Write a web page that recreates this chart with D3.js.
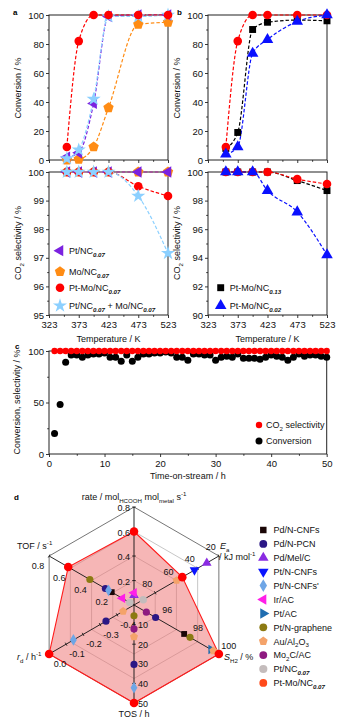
<!DOCTYPE html>
<html><head><meta charset="utf-8">
<script src="https://cdn.jsdelivr.net/npm/d3@7"></script>
<style>body{margin:0;background:#fff}svg{display:block;font-family:"Liberation Sans",Arial,Helvetica,sans-serif}</style>
</head><body><svg id="c" width="349" height="723"></svg>
<script>
// ---------- data: panels a & b ----------
const temps = [353, 373, 398, 423, 473, 523];
const tempTicks = [323, 373, 423, 473, 523];
const tempMinor = [348, 398, 448, 498];
const convPt = [2, 5, 39, 99, 100, 100];
const convMo = [0, 0.5, 9, 36, 93.5, 95];
const convPtMo = [9, 82, 100, 100, 100, 100];
const convMix = [1, 7, 42, 99, 99, 100];
const selPt = [100, 100, 100, 100, 100, 100];
const selMo = [100, 100, 100, 100, 100, 100];
const selPtMo = [100, 100, 100, 100, 99.5, 99.16];
const selMix = [100, 100, 100, 100, 99.16, 97.16];
const convPtMo13 = [8, 19, 90, 95, 96.5, 96];
const convPtMo02 = [4, 9, 73.5, 83, 95.5, 100];
const selPtMo13 = [100, 100, 100, 100, 99.4, 98.7];
const selPtMo02 = [100, 100, 100, 98.7, 97.2, 94.2];
const convTicks = [0, 20, 40, 60, 80, 100];
const selTicksA = [95, 96, 97, 98, 99, 100];
const selTicksB = [90, 92, 94, 96, 98, 100];

// ---------- data: panel c ----------
const tos = d3.range(1, 51);
const tosConv = [20, 48, 89, 96, 96, 94, 96, 97, 97, 98, 94, 94, 90, 96, 90, 94, 97, 97, 98, 98,
  99, 98, 94, 94, 91, 97, 97, 96, 96, 91, 94, 95, 94, 97, 93, 93, 93, 92, 94, 96,
  95, 94, 91, 94, 97, 95, 96, 96, 95, 94];
const tosSel = tos.map(() => 100);
const tosTicks = [0, 10, 20, 30, 40, 50];
const tosYTicks = [0, 50, 100];

// ---------- data: panel d ----------
const catalysts = ["Pd/N-CNFs", "Pd/N-PCN", "Pd/Mel/C", "Pt/N-CNFs", "Pt/N-CNFs'", "Ir/AC", "Pt/AC",
  "Pt/N-graphene", "Au/Al2O3", "Mo2C/AC", "Pt/NC0.07", "Pt-Mo/NC0.07"];
const rateVals = [null, null, 0.08, null, null, 0.1, null, null, null, null, null, 0.6];
const eaVals   = [null, null, 31.4, 43, null, null, null, null, 59.8, null, 91.3, 54.5];
const sh2Vals  = [97.75, 95.9, null, null, null, null, 99.5, 98.13, 99.64, 95.3, null, 100];
const tosVals  = [null, 30.3, null, null, 42.2, null, null, 5.5, 16.2, 12.2, null, 50];
const rdVals   = [null, -0.335, null, null, -0.143, null, null, null, -0.436, null, null, 0];
const tofVals  = [0.21, 0.27, null, null, 0.24, 0.11, null, 0.416, null, null, 0.04, 0.62];
const rateTicks = [0.2, 0.4, 0.6, 0.8];
const eaTicks = [80, 60, 40, 20];
const sh2Ticks = [96, 98, 100];
const tosAxTicks = [10, 20, 30, 40, 50];
const rdTicks = [-0.4, -0.3, -0.2, -0.1, 0];
const tofTicks = [0.2, 0.4, 0.6, 0.8];

// ---------- helpers ----------
const svg = d3.select("#c");
const FONT = '"Liberation Sans",Arial,Helvetica,sans-serif';
const fmt1 = v => v.toFixed(1);
const fmt0 = v => String(Math.round(v));

function rich(sel, x, y, parts, fs, anchor, rot) {
  const t = sel.append("text").attr("font-size", fs).attr("fill", "#111")
    .attr("text-anchor", anchor || "start");
  if (rot) t.attr("transform", `translate(${x},${y}) rotate(${rot})`).attr("x", 0).attr("y", 0);
  else t.attr("x", x).attr("y", y);
  let cur = 0;
  parts.forEach(p => {
    const [s, k] = typeof p === "string" ? [p, "n"] : p;
    const target = (k === "sub" || k === "isub") ? fs * 0.3 : (k === "sup") ? -fs * 0.4 : 0;
    const ts = t.append("tspan").text(s).attr("dy", target - cur);
    if (k === "sub" || k === "sup" || k === "isub") ts.attr("font-size", fs * 0.68);
    if (k === "isub") ts.attr("font-weight", "bold").attr("font-style", "italic");
    if (k === "i") ts.attr("font-style", "italic");
    cur = target;
  });
  return t;
}

const pentagon = {
  draw(ctx, size) {
    const r = Math.sqrt(size / 2.378);
    for (let i = 0; i < 5; i++) {
      const a = (-90 + 72 * i) * Math.PI / 180;
      const px = r * Math.cos(a), py = r * Math.sin(a);
      if (i === 0) ctx.moveTo(px, py); else ctx.lineTo(px, py);
    }
    ctx.closePath();
  }
};
const shapes = {
  circle: [d3.symbolCircle, 0], square: [d3.symbolSquare, 0], diamond: [d3.symbolDiamond, 0],
  up: [d3.symbolTriangle, 0], down: [d3.symbolTriangle, 180], left: [d3.symbolTriangle, -90],
  right: [d3.symbolTriangle, 90], star: [d3.symbolStar, 0], pent: [pentagon, 0]
};
function mark(g, shape, x, y, size, color) {
  const [type, rot] = shapes[shape];
  g.append("path").attr("d", d3.symbol().type(type).size(size)())
    .attr("transform", `translate(${x},${y}) rotate(${rot})`).attr("fill", color);
}
function styleAxis(g, fs) {
  g.select("path.domain").remove();
  g.selectAll("line").attr("stroke", "#222").attr("stroke-width", 0.9);
  g.selectAll("text").attr("font-size", fs || 9.5).attr("fill", "#111").attr("font-family", FONT);
}

// ---------- panels a & b ----------
function tempPanel(x0, x1, letter, letterX, upperSeries, lowerSeries, selDomain, selTicks, selMinor, legend) {
  const g = svg.append("g");
  const x = d3.scaleLinear([323, 523], [x0, x1]);
  const yU = d3.scaleLinear([0, 100], [160, 15]);
  const yL = d3.scaleLinear(selDomain, [315, 172]);

  [[15, 160], [172, 315]].forEach(([t, b]) => {
    g.append("rect").attr("x", x0).attr("y", t).attr("width", x1 - x0).attr("height", b - t)
      .attr("fill", "none").attr("stroke", "#222").attr("stroke-width", 1);
  });
  // upper axes
  styleAxis(g.append("g").attr("transform", `translate(${x0},0)`)
    .call(d3.axisLeft(yU).tickValues(convTicks).tickSize(3).tickPadding(2).tickFormat(fmt0)));
  styleAxis(g.append("g").attr("transform", `translate(${x0},0)`)
    .call(d3.axisLeft(yU).tickValues([10, 30, 50, 70, 90]).tickSize(1.8).tickFormat("")));
  styleAxis(g.append("g").attr("transform", `translate(0,160)`)
    .call(d3.axisBottom(x).tickValues(tempTicks).tickSize(3).tickFormat("")));
  styleAxis(g.append("g").attr("transform", `translate(0,160)`)
    .call(d3.axisBottom(x).tickValues(tempMinor).tickSize(1.8).tickFormat("")));
  // lower axes
  styleAxis(g.append("g").attr("transform", `translate(${x0},0)`)
    .call(d3.axisLeft(yL).tickValues(selTicks).tickSize(3).tickPadding(2).tickFormat(fmt0)));
  styleAxis(g.append("g").attr("transform", `translate(${x0},0)`)
    .call(d3.axisLeft(yL).tickValues(selMinor).tickSize(1.8).tickFormat("")));
  styleAxis(g.append("g").attr("transform", `translate(0,315)`)
    .call(d3.axisBottom(x).tickValues(tempTicks).tickSize(3).tickPadding(3).tickFormat(fmt0)));
  styleAxis(g.append("g").attr("transform", `translate(0,315)`)
    .call(d3.axisBottom(x).tickValues(tempMinor).tickSize(1.8).tickFormat("")));

  const drawSeries = (list, y) => {
    list.forEach(s => {
      const pts = temps.map((t, i) => [t, s.vals[i]]);
      g.append("path").attr("d", d3.line().x(d => x(d[0])).y(d => y(d[1])).curve(d3.curveMonotoneX)(pts))
        .attr("fill", "none").attr("stroke", s.color).attr("stroke-width", 1.2)
        .attr("stroke-dasharray", "3.5,2");
    });
    list.forEach(s => {
      temps.forEach((t, i) => mark(g, s.shape, x(t), y(s.vals[i]), s.size, s.color));
    });
  };
  drawSeries(upperSeries, yU);
  drawSeries(lowerSeries, yL);

  // labels
  const cx = (x0 + x1) / 2;
  g.append("text").attr("x", cx).attr("y", 342).attr("text-anchor", "middle")
    .attr("font-size", 9).attr("fill", "#111").text("Temperature / K");
  rich(g, x0 - 28, 88, ["Conversion / %"], 9, "middle", -90);
  rich(g, x0 - 28, 243, ["CO", ["2", "sub"], " selectivity / %"], 9, "middle", -90);
  g.append("text").attr("x", letterX).attr("y", 15).attr("font-size", 8).attr("font-weight", "bold").text(letter);

  legend.forEach(l => {
    mark(g, l.shape, l.mx, l.y, l.size, l.color);
    rich(g, l.mx + 9, l.y + 3.3, l.parts, 9, "start");
  });
}

const PURPLE = "#7b22e0", ORANGE = "#ff8c14", RED = "#ff0000", SKY = "#8cd0ff", BLUE = "#0a10ff";
tempPanel(49, 168, "a", 13,
  [{vals: convMo, color: ORANGE, shape: "pent", size: 70},
   {vals: convPt, color: PURPLE, shape: "left", size: 55},
   {vals: convMix, color: SKY, shape: "star", size: 62},
   {vals: convPtMo, color: RED, shape: "circle", size: 58}],
  [{vals: selMo, color: ORANGE, shape: "pent", size: 70},
   {vals: selPt, color: PURPLE, shape: "left", size: 55},
   {vals: selPtMo, color: RED, shape: "circle", size: 58},
   {vals: selMix, color: SKY, shape: "star", size: 62}],
  [95, 100], selTicksA, [95.5, 96.5, 97.5, 98.5, 99.5],
  [{shape: "left", color: PURPLE, size: 55, mx: 60, y: 250.7, parts: ["Pt/NC", ["0.07", "isub"]]},
   {shape: "pent", color: ORANGE, size: 70, mx: 60, y: 271.7, parts: ["Mo/NC", ["0.07", "isub"]]},
   {shape: "circle", color: RED, size: 58, mx: 60, y: 287.7, parts: ["Pt-Mo/NC", ["0.07", "isub"]]},
   {shape: "star", color: SKY, size: 62, mx: 60, y: 305.7, parts: ["Pt/NC", ["0.07", "isub"], " + Mo/NC", ["0.07", "isub"]]}]
);
tempPanel(208, 327, "b", 177,
  [{vals: convPtMo13, color: "#000", shape: "square", size: 48},
   {vals: convPtMo, color: RED, shape: "circle", size: 58},
   {vals: convPtMo02, color: BLUE, shape: "up", size: 58}],
  [{vals: selPtMo13, color: "#000", shape: "square", size: 48},
   {vals: selPtMo, color: RED, shape: "circle", size: 58},
   {vals: selPtMo02, color: BLUE, shape: "up", size: 58}],
  [90, 100], selTicksB, [91, 93, 95, 97, 99],
  [{shape: "square", color: "#000", size: 48, mx: 220.7, y: 287.7, parts: ["Pt-Mo/NC", ["0.13", "isub"]]},
   {shape: "up", color: BLUE, size: 58, mx: 220.7, y: 305.7, parts: ["Pt-Mo/NC", ["0.02", "isub"]]}]
);

// ---------- panel c ----------
(function () {
  const g = svg.append("g");
  const x = d3.scaleLinear([0, 50], [49, 326.7]);
  const y = d3.scaleLinear([0, 100], [454, 351]);
  g.append("rect").attr("x", 49).attr("y", 351).attr("width", 277.7).attr("height", 103)
    .attr("fill", "none").attr("stroke", "#222").attr("stroke-width", 1);
  styleAxis(g.append("g").attr("transform", "translate(49,0)")
    .call(d3.axisLeft(y).tickValues(tosYTicks).tickSize(3).tickPadding(2).tickFormat(fmt0)));
  styleAxis(g.append("g").attr("transform", "translate(49,0)")
    .call(d3.axisLeft(y).tickValues([25, 75]).tickSize(1.8).tickFormat("")));
  styleAxis(g.append("g").attr("transform", "translate(0,454)")
    .call(d3.axisBottom(x).tickValues(tosTicks).tickSize(3).tickPadding(3).tickFormat(fmt0)));
  styleAxis(g.append("g").attr("transform", "translate(0,454)")
    .call(d3.axisBottom(x).tickValues([5, 15, 25, 35, 45]).tickSize(1.8).tickFormat("")));
  tos.forEach((t, i) => g.append("circle").attr("cx", x(t)).attr("cy", y(tosConv[i])).attr("r", 3.5).attr("fill", "#000"));
  tos.forEach((t, i) => g.append("circle").attr("cx", x(t)).attr("cy", y(tosSel[i])).attr("r", 3.2).attr("fill", RED));
  g.append("text").attr("x", 187.8).attr("y", 479).attr("text-anchor", "middle").attr("font-size", 9).attr("fill", "#111").text("Time-on-stream / h");
  rich(g, 20, 402, ["Conversion, selectivity / %"], 9, "middle", -90);
  g.append("text").attr("x", 15).attr("y", 349).attr("font-size", 8).attr("font-weight", "bold").text("c");
  g.append("circle").attr("cx", 259).attr("cy", 425).attr("r", 3.2).attr("fill", RED);
  rich(g, 266, 428.3, ["CO", ["2", "sub"], " selectivity"], 9, "start");
  g.append("circle").attr("cx", 259).attr("cy", 441).attr("r", 3.5).attr("fill", "#000");
  rich(g, 266, 444.3, ["Conversion"], 9, "start");
})();

// ---------- panel d (radar) ----------
(function () {
  const g = svg.append("g");
  const cx = 134, cy = 605, R = 98;
  const axes = [
    {vals: rateVals, ang: -90, dom: [0, 0.8], ticks: rateTicks, fmt: fmt1, anchor: "end", off: [-4, 4]},
    {vals: eaVals, ang: -30, dom: [100, 20], ticks: eaTicks, fmt: fmt0, anchor: "middle", off: [-8, -6]},
    {vals: sh2Vals, ang: 30, dom: [94.5, 100], ticks: sh2Ticks, fmt: fmt0, anchor: "middle", off: [10, -5]},
    {vals: tosVals, ang: 90, dom: [0, 50], ticks: tosAxTicks, fmt: fmt0, anchor: "start", off: [4, 3.5]},
    {vals: rdVals, ang: 150, dom: [-0.5, 0], ticks: rdTicks, fmt: fmt1, anchor: "middle", off: [11, 13]},
    {vals: tofVals, ang: 210, dom: [0, 0.8], ticks: tofTicks, fmt: fmt1, anchor: "middle", off: [-11, 12.5]}
  ];
  axes.forEach(a => { a.s = d3.scaleLinear(a.dom, [0, R]); a.rad = a.ang * Math.PI / 180; });
  const pt = (a, v) => [cx + a.s(v) * Math.cos(a.rad), cy + a.s(v) * Math.sin(a.rad)];
  const ring = f => axes.map(a => [cx + R * f * Math.cos(a.rad), cy + R * f * Math.sin(a.rad)]);
  const line = d3.line().curve(d3.curveLinearClosed);

  // grid
  [0.25, 0.5, 0.75].forEach(f => g.append("path").attr("d", line(ring(f))).attr("fill", "none")
    .attr("stroke", "#b8b8b8").attr("stroke-width", 0.8));
  g.append("path").attr("d", line(ring(1))).attr("fill", "none").attr("stroke", "#666").attr("stroke-width", 0.9);

  // Pt-Mo polygon
  const poly = axes.map(a => pt(a, a.vals[11]));
  g.append("path").attr("d", line(poly)).attr("fill", "rgba(238,110,110,0.5)")
    .attr("stroke", "#ff1a1a").attr("stroke-width", 1.1);

  // axes + ticks + labels
  axes.forEach(a => {
    const e = [cx + R * Math.cos(a.rad), cy + R * Math.sin(a.rad)];
    g.append("line").attr("x1", cx).attr("y1", cy).attr("x2", e[0]).attr("y2", e[1])
      .attr("stroke", "#111").attr("stroke-width", 0.9);
    const nx = -Math.sin(a.rad), ny = Math.cos(a.rad);
    a.ticks.forEach(v => {
      const [px, py] = pt(a, v);
      g.append("line").attr("x1", px - nx * 1.8).attr("y1", py - ny * 1.8)
        .attr("x2", px + nx * 1.8).attr("y2", py + ny * 1.8).attr("stroke", "#111").attr("stroke-width", 0.8);
      g.append("text").attr("x", px + a.off[0]).attr("y", py + a.off[1]).attr("text-anchor", a.anchor)
        .attr("font-size", 9).attr("fill", "#111").text(a.fmt(v));
    });
  });

  // catalyst markers
  const cat = [
    {shape: "square", color: "#1a0606", size: 34, parts: ["Pd/N-CNFs"]},
    {shape: "circle", color: "#2b1785", size: 40, parts: ["Pd/N-PCN"]},
    {shape: "up", color: "#8a2be2", size: 40, parts: ["Pd/Mel/C"]},
    {shape: "down", color: "#0a14ff", size: 40, parts: ["Pt/N-CNFs"]},
    {shape: "diamond", color: "#6fa6e6", size: 40, parts: ["Pt/N-CNFs'"]},
    {shape: "left", color: "#ff1ee8", size: 40, parts: [" Ir/AC"]},
    {shape: "right", color: "#1f6db0", size: 40, parts: ["Pt/AC"]},
    {shape: "circle", color: "#8c7a12", size: 40, parts: ["Pt/N-graphene"]},
    {shape: "pent", color: "#f4a36a", size: 42, parts: ["Au/Al", ["2", "sub"], "O", ["3", "sub"]]},
    {shape: "circle", color: "#8e1a80", size: 40, parts: ["Mo", ["2", "sub"], "C/AC"]},
    {shape: "circle", color: "#c4bcbc", size: 44, parts: ["Pt/NC", ["0.07", "isub"]]},
    {shape: "circle", color: "#ff4a1a", size: 40, parts: ["Pt-Mo/NC", ["0.07", "isub"]]}
  ];
  catalysts.forEach((name, i) => {
    if (i === 11) return;
    axes.forEach(a => {
      const v = a.vals[i];
      if (v === null) return;
      const [px, py] = pt(a, v);
      mark(g, cat[i].shape, px, py, cat[i].size, cat[i].color);
    });
  });
  poly.forEach(p => g.append("circle").attr("cx", p[0]).attr("cy", p[1]).attr("r", 4.3).attr("fill", "#ff0000"));

  // axis titles
  rich(g, 134, 500, ["rate / mol", ["HCOOH", "sub"], " mol", ["metal", "sub"], " s", ["-1", "sup"]], 9, "middle");
  rich(g, 17, 549, ["TOF / s", ["-1", "sup"]], 9, "start");
  rich(g, 220, 549, [["E", "i"], ["a", "sub"]], 9, "start");
  rich(g, 219, 560, ["/ kJ mol", ["-1", "sup"]], 9, "start");
  rich(g, 224, 660, [["S", "i"], ["H2", "sub"], " / %"], 9, "start");
  rich(g, 17, 660, [["r", "i"], ["d", "sub"], " / h", ["-1", "sup"]], 9, "start");
  rich(g, 134, 717, ["TOS / h"], 9, "middle");
  g.append("text").attr("x", 14).attr("y", 500).attr("font-size", 8).attr("font-weight", "bold").text("d");

  // legend
  cat.forEach((c, i) => {
    const ly = 530 + i * 13.9;
    mark(g, c.shape, 263.3, ly, c.size + 8, c.color);
    rich(g, 273.5, ly + 3.3, c.parts, 9, "start");
  });
})();
</script></body></html>
